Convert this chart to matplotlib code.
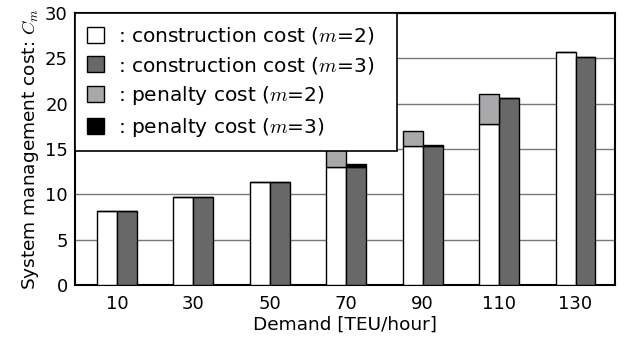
import numpy as np
import matplotlib.pyplot as plt

plt.rcParams['mathtext.fontset'] = 'cm'

demand = ['10', '30', '50', '70', '90', '110', '130']
construction_m2 = [8.2, 9.7, 11.3, 13.0, 15.3, 17.7, 25.7]
penalty_m2 = [0.0, 0.0, 0.0, 2.0, 1.65, 3.4, 0.0]
construction_m3 = [8.2, 9.7, 11.3, 13.05, 15.35, 20.6, 25.2]
penalty_m3 = [0.0, 0.0, 0.0, 0.25, 0.05, 0.0, 0.0]

fig = plt.figure(figsize=(6.24, 3.44), dpi=100)
ax = fig.add_axes([0.120, 0.172, 0.866, 0.790])

x = np.arange(len(demand))
w = 0.26
kw = dict(width=w, edgecolor='black', linewidth=1.0, zorder=3)

b1 = ax.bar(x - w / 2, construction_m2, color='white', **kw)
b2 = ax.bar(x + w / 2, construction_m3, color='#686868', **kw)
b3 = ax.bar(x - w / 2, penalty_m2, bottom=construction_m2, color='#a9a9ab', **kw)
b4 = ax.bar(x + w / 2, penalty_m3, bottom=construction_m3, color='black', **kw)

ax.set_xlim(-0.55, len(demand) - 1 + 0.52)
ax.set_ylim(0, 30)
ax.set_yticks(range(0, 31, 5))
ax.set_xticks(x)
ax.set_xticklabels(demand)
ax.tick_params(length=0, labelsize=13)
ax.tick_params(axis='x', pad=7)
ax.tick_params(axis='y', pad=5)
ax.yaxis.grid(True, color='#777777', linewidth=1.0, zorder=0)
ax.set_axisbelow(True)
for s in ax.spines.values():
    s.set_linewidth(1.5)

ax.set_xlabel('Demand [TEU/hour]', fontsize=13.3, labelpad=2)
ax.set_ylabel('System management cost: $C_m$', fontsize=13.3, labelpad=3)

leg = ax.legend([b1, b2, b3, b4],
                [': construction cost ($m$=2)', ': construction cost ($m$=3)',
                 ': penalty cost ($m$=2)', ': penalty cost ($m$=3)'],
                loc='upper left', bbox_to_anchor=(0, 0, 0.596, 1), mode='expand',
                borderaxespad=0, fontsize=14.5,
                handlelength=0.85, handleheight=0.85, handletextpad=0.7,
                labelspacing=0.42, borderpad=0.6, fancybox=False,
                framealpha=1, edgecolor='black')
leg.get_frame().set_linewidth(1.2)
leg.set_zorder(5)

fig.savefig('out.png', dpi=100)
